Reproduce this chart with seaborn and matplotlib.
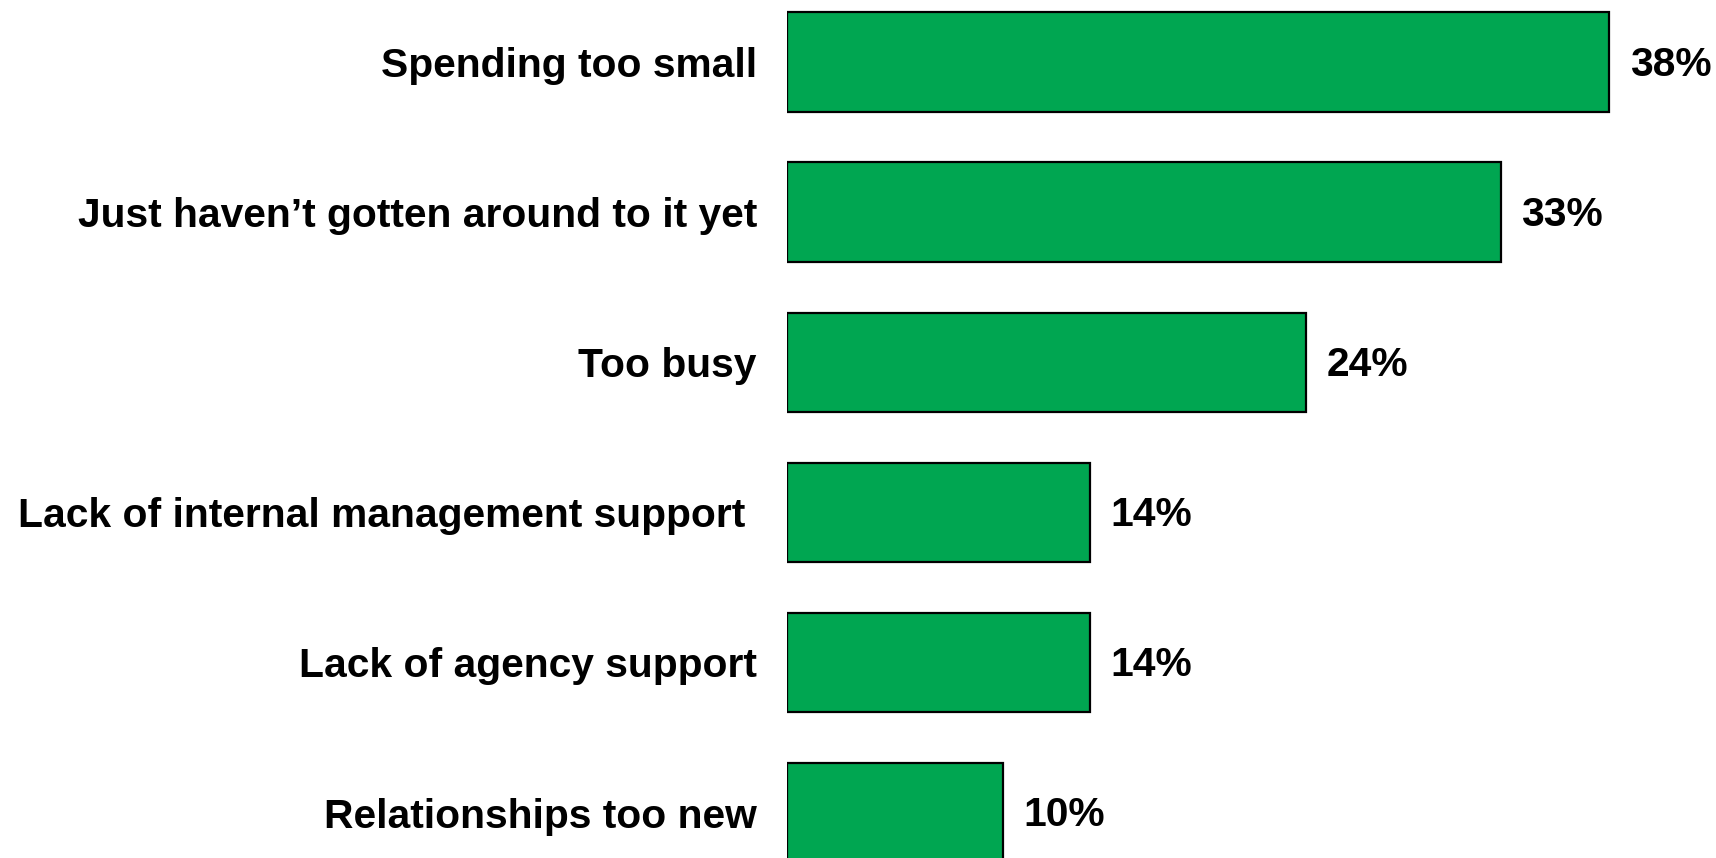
import matplotlib
matplotlib.use("Agg")
import matplotlib.pyplot as plt
import seaborn as sns
import pandas as pd

categories = [
    "Spending too small",
    "Just haven\u2019t gotten around to it yet",
    "Too busy",
    "Lack of internal management support ",
    "Lack of agency support",
    "Relationships too new",
]
values = [38, 33, 24, 14, 14, 10]
value_labels = ["38%", "33%", "24%", "14%", "14%", "10%"]

df = pd.DataFrame({"reason": categories, "share": values})

sns.set_theme(style="white")
plt.rcParams["font.family"] = ["Liberation Sans", "DejaVu Sans"]
plt.rcParams["font.weight"] = "bold"

FS = 29.3
W, H, DPI = 1716, 858, 100
fig = plt.figure(figsize=(W / DPI, H / DPI), dpi=DPI)
left = 786.7 / W
ax = fig.add_axes([left, 0.0, 1 - left, 1.0])

sns.barplot(
    data=df, y="reason", x="share", orient="h", ax=ax,
    color="#00A651", saturation=1, width=0.662,
    edgecolor="black", linewidth=1.6,
)

ax.set_xlim(0, 42.96)
ax.set_ylim(5.303, -0.413)

for i, (v, lab) in enumerate(zip(values, value_labels)):
    ax.annotate(lab, xy=(v, i), xytext=(15, 0.8), textcoords="offset points",
                ha="left", va="center_baseline", fontsize=FS,
                fontweight="bold", color="black")

ax.set_xlabel("")
ax.set_ylabel("")
ax.set_xticks([])
ax.tick_params(axis="y", length=0, pad=21.5)
for t in ax.get_yticklabels():
    t.set_fontsize(FS)
    t.set_fontweight("bold")
    t.set_color("black")
for s in ax.spines.values():
    s.set_visible(False)

fig.savefig("out.png", dpi=DPI)
